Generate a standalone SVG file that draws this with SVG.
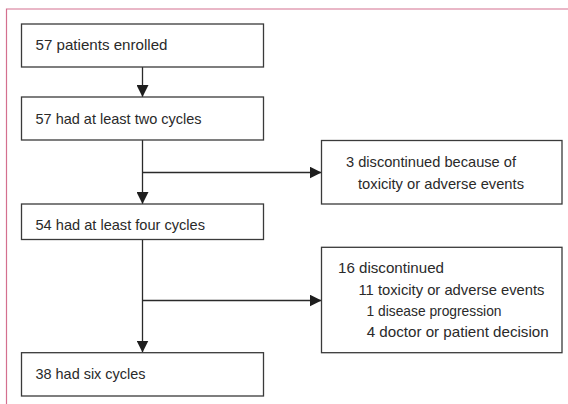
<svg xmlns="http://www.w3.org/2000/svg" width="568" height="404" viewBox="0 0 568 404">
  <style>
    .box { fill: #ffffff; stroke: #3a3a3a; stroke-width: 1.3; }
    .txt { font-family: "Liberation Sans", Arial, sans-serif; font-size: 15px; fill: #2a2a2a; }
    .conn { fill: none; stroke: #2a2a2a; stroke-width: 1.3; }
    .frame { fill: none; stroke: #d4708f; stroke-width: 1.2; }
  </style>
  <defs>
    <marker id="arrow" viewBox="0 0 12 12" refX="12" refY="6" markerWidth="12" markerHeight="12" markerUnits="userSpaceOnUse" orient="auto">
      <path d="M0,0 L12,6 L0,12 Z" fill="#1e1e1e"/>
    </marker>
  </defs>
  <rect width="568" height="404" fill="#ffffff"/>
  <path class="frame" d="M6.5,404 L6.5,9 L568,9"/>

  <g id="connectors">
    <line class="conn" x1="142.5" y1="67" x2="142.5" y2="97" marker-end="url(#arrow)"/>
    <line class="conn" x1="142.5" y1="140" x2="142.5" y2="204" marker-end="url(#arrow)"/>
    <line class="conn" x1="142.5" y1="172.5" x2="321.5" y2="172.5" marker-end="url(#arrow)"/>
    <line class="conn" x1="142.5" y1="239.5" x2="142.5" y2="352.5" marker-end="url(#arrow)"/>
    <line class="conn" x1="142.5" y1="300.5" x2="321.5" y2="300.5" marker-end="url(#arrow)"/>
  </g>

  <g id="enrolled">
    <rect class="box" x="21.5" y="24" width="242" height="43"/>
    <text class="txt" x="35.5" y="50" textLength="132" lengthAdjust="spacingAndGlyphs">57 patients enrolled</text>
  </g>
  <g id="two-cycles">
    <rect class="box" x="21.5" y="97" width="242" height="43"/>
    <text class="txt" x="35.5" y="123.5" textLength="166" lengthAdjust="spacingAndGlyphs">57 had at least two cycles</text>
  </g>
  <g id="discontinued-3">
    <rect class="box" x="321.5" y="140.5" width="240.5" height="63.5"/>
    <text class="txt" x="346" y="167.3" textLength="170" lengthAdjust="spacingAndGlyphs">3 discontinued because of</text>
    <text class="txt" x="358" y="188.7" textLength="166" lengthAdjust="spacingAndGlyphs">toxicity or adverse events</text>
  </g>
  <g id="four-cycles">
    <rect class="box" x="21.5" y="204" width="242" height="35.5"/>
    <text class="txt" x="35.5" y="230" textLength="169.5" lengthAdjust="spacingAndGlyphs">54 had at least four cycles</text>
  </g>
  <g id="discontinued-16">
    <rect class="box" x="321.5" y="247.3" width="240.5" height="105.4"/>
    <text class="txt" x="338" y="273" textLength="106" lengthAdjust="spacingAndGlyphs">16 discontinued</text>
    <text class="txt" x="358.5" y="294.5" textLength="186" lengthAdjust="spacingAndGlyphs">11 toxicity or adverse events</text>
    <text class="txt" x="366.5" y="315.5" textLength="135" lengthAdjust="spacingAndGlyphs">1 disease progression</text>
    <text class="txt" x="366.7" y="336.5" textLength="182" lengthAdjust="spacingAndGlyphs">4 doctor or patient decision</text>
  </g>
  <g id="six-cycles">
    <rect class="box" x="21.5" y="352.7" width="242" height="43.3"/>
    <text class="txt" x="35.5" y="378.7" textLength="110" lengthAdjust="spacingAndGlyphs">38 had six cycles</text>
  </g>
</svg>
